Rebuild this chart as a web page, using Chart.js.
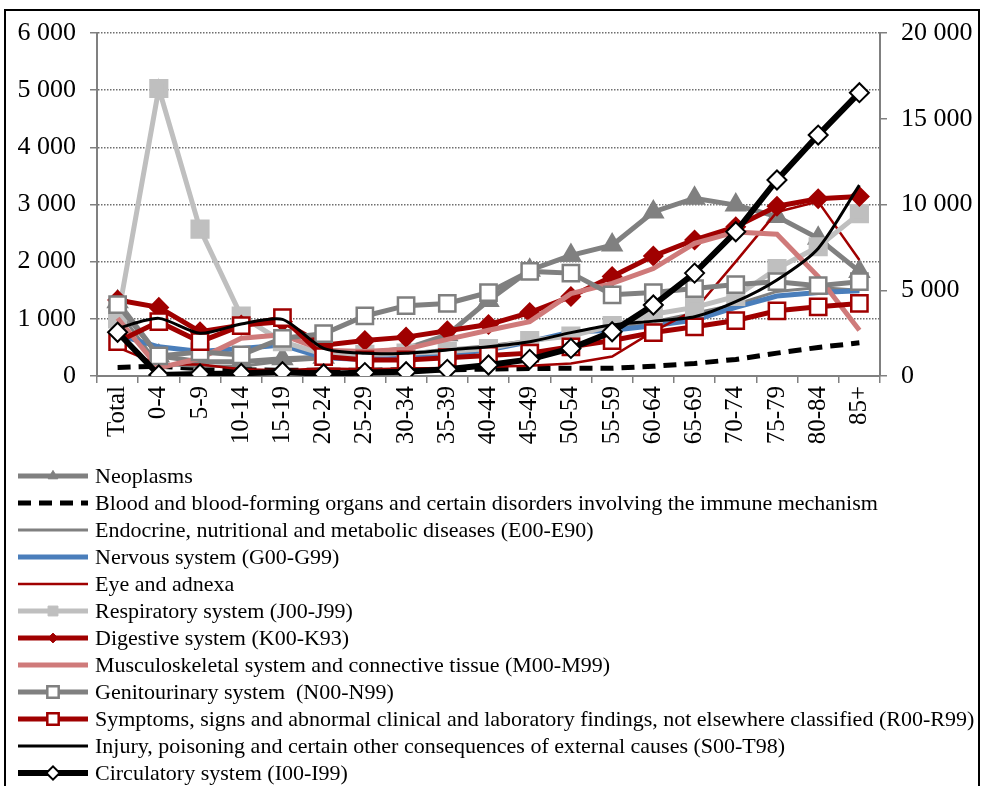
<!DOCTYPE html>
<html>
<head>
<meta charset="utf-8">
<script src="https://cdn.jsdelivr.net/npm/chart.js@4.4.1/dist/chart.umd.min.js"></script>
<style>
  body { margin: 0; background: #fff; }
  #wrap { width: 984px; height: 786px; }
</style>
</head>
<body>
<div id="wrap"><canvas id="lineChart" width="984" height="786"></canvas></div>
<script>
// age groups
const ageGroups = ['Total', '0-4', '5-9', '10-14', '15-19', '20-24', '25-29', '30-34', '35-39', '40-44',
    '45-49', '50-54', '55-59', '60-64', '65-69', '70-74', '75-79', '80-84', '85+'];

// left axis series
const neoplasms     = [1300, 350, 250, 250, 300, 330, 400, 480, 720, 1320, 1850, 2110, 2290, 2870, 3110, 2990, 2790, 2410, 1830];
const blood         = [150, 170, 130, 110, 100, 100, 100, 110, 110, 120, 130, 135, 135, 170, 220, 290, 400, 500, 580];
const endocrine     = [1150, 200, 170, 170, 260, 300, 350, 400, 470, 530, 620, 750, 830, 950, 1100, 1250, 1480, 1550, 1500];
const nervous       = [720, 510, 430, 480, 540, 320, 290, 310, 370, 460, 600, 770, 800, 880, 980, 1200, 1400, 1460, 1490];
const eye           = [500, 200, 200, 120, 100, 130, 120, 130, 140, 160, 180, 220, 340, 780, 1150, 2000, 2870, 3050, 2030];
const respiratory   = [1000, 5030, 2570, 1050, 600, 380, 380, 400, 430, 480, 620, 700, 880, 1080, 1200, 1390, 1880, 2260, 2840];
const digestive     = [1330, 1200, 775, 890, 950, 540, 620, 680, 790, 900, 1110, 1390, 1740, 2100, 2380, 2610, 2970, 3100, 3140];
const musculo       = [1010, 140, 310, 660, 720, 450, 430, 470, 640, 800, 950, 1440, 1620, 1880, 2320, 2520, 2480, 1740, 800];
const genito        = [1250, 350, 420, 370, 660, 740, 1050, 1230, 1270, 1460, 1830, 1800, 1420, 1460, 1530, 1600, 1650, 1580, 1650];
const symptoms      = [600, 950, 600, 880, 1020, 340, 280, 280, 320, 360, 400, 510, 620, 760, 860, 970, 1140, 1210, 1270];
// right axis series
const injury        = [2780, 3360, 2490, 3030, 3300, 1610, 1320, 1330, 1520, 1710, 2000, 2530, 2970, 3200, 3450, 4330, 5600, 7440, 11130];
const circulatory   = [2550, 60, 120, 150, 250, 120, 200, 250, 390, 640, 970, 1610, 2580, 4140, 6000, 8410, 11430, 14050, 16520];

const leftTicks = [0, 1000, 2000, 3000, 4000, 5000, 6000];
const rightTicks = [0, 5000, 10000, 15000, 20000];

const GRAY = '#808080', DRED = '#a00000';
const FONT = 'Liberation Serif';

function fmt(v) {
    return String(v).replace(/\B(?=(\d{3})+(?!\d))/g, ' ');
}

function series(label, data, color, width, extra) {
    return Object.assign({
        label: label,
        data: data,
        borderColor: color,
        backgroundColor: color,
        borderWidth: width,
        pointRadius: 0,
        pointStyle: false,
        tension: 0,
        fill: false,
        yAxisID: 'y'
    }, extra || {});
}

const datasets = [
    series('Neoplasms', neoplasms, GRAY, 5, { pointStyle: 'triangle', pointRadius: 8, pointBackgroundColor: GRAY, pointBorderColor: GRAY }),
    series('Blood and blood-forming organs and certain disorders involving the immune mechanism', blood, '#000', 5, { borderDash: [13, 8] }),
    series('Endocrine, nutritional and metabolic diseases (E00-E90)', endocrine, GRAY, 3),
    series('Nervous system (G00-G99)', nervous, '#4a7ebb', 5),
    series('Eye and adnexa', eye, DRED, 2.5),
    series('Respiratory system (J00-J99)', respiratory, '#bfbfbf', 5, { pointStyle: 'rect', pointRadius: 10, pointBackgroundColor: '#bfbfbf', pointBorderColor: '#bfbfbf' }),
    series('Digestive system (K00-K93)', digestive, DRED, 5, { pointStyle: 'rectRot', pointRadius: 7, pointBackgroundColor: DRED, pointBorderColor: DRED }),
    series('Musculoskeletal system and connective tissue (M00-M99)', musculo, '#cf7a7a', 5),
    series('Genitourinary system  (N00-N99)', genito, GRAY, 5, { pointStyle: 'rect', pointRadius: 11.5, pointBackgroundColor: '#fff', pointBorderColor: GRAY, pointBorderWidth: 2.5 }),
    series('Symptoms, signs and abnormal clinical and laboratory findings, not elsewhere classified (R00-R99)', symptoms, DRED, 5, { pointStyle: 'rect', pointRadius: 11.5, pointBackgroundColor: '#fff', pointBorderColor: DRED, pointBorderWidth: 2.5 }),
    series('Injury, poisoning and certain other consequences of external causes (S00-T98)', injury, '#000', 3, { yAxisID: 'y1', tension: 0.25 }),
    series('Circulatory system (I00-I99)', circulatory, '#000', 6, { yAxisID: 'y1', pointStyle: 'rectRot', pointRadius: 9.5, pointBackgroundColor: '#fff', pointBorderColor: '#000', pointBorderWidth: 2 })
];
// later series on top, like the original
datasets.forEach((d, i) => { d.order = datasets.length - i; });

// frame + legend listed under the plot
const frameLegend = {
    id: 'frameLegend',
    afterDraw(chart) {
        const ctx = chart.ctx;
        ctx.save();
        ctx.strokeStyle = '#000';
        ctx.lineWidth = 2;
        ctx.strokeRect(5, 10, 974, 800);

        ctx.font = '22px ' + FONT;
        ctx.textBaseline = 'middle';
        ctx.fillStyle = '#000';
        datasets.forEach((d, i) => {
            const y = 476 + 27 * i;
            ctx.save();
            ctx.strokeStyle = d.borderColor;
            ctx.lineWidth = d.borderWidth;
            ctx.setLineDash(d.borderDash || []);
            ctx.beginPath();
            ctx.moveTo(18, y);
            ctx.lineTo(88, y);
            ctx.stroke();
            ctx.restore();
            if (d.pointStyle) {
                ctx.save();
                ctx.fillStyle = d.pointBackgroundColor;
                ctx.strokeStyle = d.pointBorderColor;
                ctx.lineWidth = d.pointBorderWidth || 1;
                Chart.helpers.drawPoint(ctx, {
                    pointStyle: d.pointStyle,
                    radius: d.pointRadius * 0.7,
                    rotation: 0,
                    borderWidth: d.pointBorderWidth || 1
                }, 53, y);
                ctx.restore();
            }
            ctx.fillText(d.label, 95, y + 1);
        });
        ctx.restore();
    }
};

new Chart(document.getElementById('lineChart').getContext('2d'), {
    type: 'line',
    data: { labels: ageGroups, datasets: datasets },
    plugins: [frameLegend],
    options: {
        responsive: false,
        animation: false,
        layout: { padding: { top: 33, bottom: 320, left: 0, right: 0 } },
        plugins: {
            legend: { display: false },
            tooltip: { enabled: false }
        },
        scales: {
            x: {
                offset: true,
                afterFit(s) { s.height = 90; },
                grid: { offset: true, drawOnChartArea: false, tickLength: 7, color: GRAY, lineWidth: 1.5 },
                border: { color: GRAY, width: 2 },
                ticks: { autoSkip: false, maxRotation: 90, minRotation: 90, padding: 3, color: '#000', font: { family: FONT, size: 25 } }
            },
            y: {
                position: 'left',
                min: 0, max: 6000,
                afterFit(s) { s.width = 97; },
                afterBuildTicks(s) { s.ticks = leftTicks.map(v => ({ value: v })); },
                grid: { color: '#6f6f6f', lineWidth: 1.5, tickLength: 7, tickColor: GRAY, tickBorderDash: [] },
                border: { color: GRAY, width: 2, dash: [1.5, 1.5] },
                ticks: { padding: 14, color: '#000', font: { family: FONT, size: 26 }, callback: v => fmt(v) }
            },
            y1: {
                position: 'right',
                min: 0, max: 20000,
                afterFit(s) { s.width = 104; },
                afterBuildTicks(s) { s.ticks = rightTicks.map(v => ({ value: v })); },
                grid: { drawOnChartArea: false, tickLength: 7, color: GRAY, lineWidth: 1.5 },
                border: { color: GRAY, width: 2 },
                ticks: { padding: 14, color: '#000', font: { family: FONT, size: 26 }, callback: v => fmt(v) }
            }
        }
    }
});
</script>
</body>
</html>
